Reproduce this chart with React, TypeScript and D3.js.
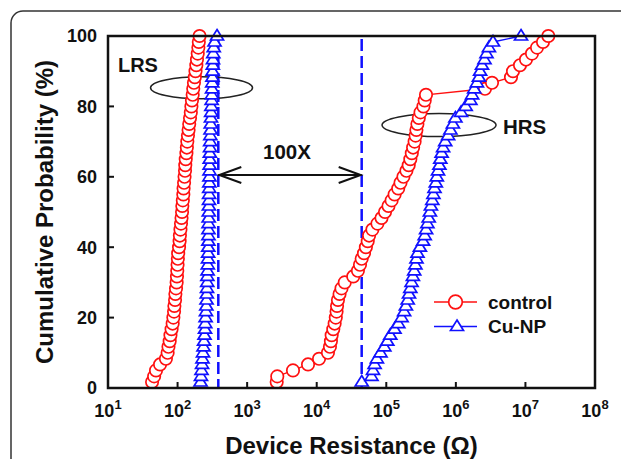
import React, { useEffect, useRef } from 'react';
import * as d3 from 'd3';

// cumulative probability (%) shared by every series
const prob = [1.7, 3.3, 5, 6.7, 8.3, 10, 11.7, 13.3, 15, 16.7, 18.3, 20, 21.7, 23.3, 25, 26.7, 28.3, 30,
  31.7, 33.3, 35, 36.7, 38.3, 40, 41.7, 43.3, 45, 46.7, 48.3, 50, 51.7, 53.3, 55, 56.7, 58.3, 60, 61.7,
  63.3, 65, 66.7, 68.3, 70, 71.7, 73.3, 75, 76.7, 78.3, 80, 81.7, 83.3, 85, 86.7, 88.3, 90, 91.7, 93.3,
  95, 96.7, 98.3, 100];

// device resistance (ohm)
const controlLRS = [43, 46, 49, 56, 68, 72, 74, 77, 79, 82, 85, 87, 89, 90, 92, 93, 95, 97, 98, 99,
  100, 101, 102, 105, 107, 108, 110, 112, 114, 116, 117, 119, 121, 122, 124, 126, 128, 129, 131, 134,
  136, 138, 141, 144, 147, 151, 155, 158, 161, 165, 168, 172, 177, 181, 186, 190, 195, 199, 202, 207];
const cuLRS = [214, 217, 221, 225, 228, 232, 236, 240, 244, 248, 250, 253, 256, 259, 261, 263, 265, 267,
  268, 270, 272, 274, 275, 276, 277, 278, 278, 279, 280, 281, 282, 283, 284, 285, 286, 287, 288, 289,
  290, 291, 293, 294, 296, 298, 300, 302, 304, 306, 309, 311, 313, 315, 317, 319, 321, 323, 326, 331,
  340, 369];
const controlHRS = [2660, 2710, 4560, 7500, 10800, 14500, 15500, 16000, 16400, 17300, 18100, 18800,
  19300, 19600, 20200, 21300, 22700, 25300, 33500, 39100, 41900, 44300, 47800, 50900, 54100, 56600,
  63200, 74600, 85400, 95900, 107600, 119300, 131700, 148400, 160100, 176300, 194600, 210100, 221500,
  232700, 242900, 255300, 263900, 271000, 280100, 293400, 310400, 341700, 356700, 372300, 2624000,
  3308000, 6203000, 6630000, 8357000, 10190000, 12430000, 14670000, 17890000, 21320000];
const cuHRS = [44340, 61330, 64440, 67950, 73330, 82590, 93660, 103400, 114200, 131300, 148900, 166100,
  180400, 191400, 203200, 212100, 221500, 231100, 241300, 251900, 262100, 271800, 281000, 304300,
  338300, 356700, 373600, 390000, 407200, 423600, 437900, 458700, 475700, 493300, 515000, 532400,
  553900, 580200, 597800, 624100, 655800, 703000, 773800, 835000, 907000, 985000, 1190000, 1385000,
  1619000, 1713000, 1835000, 2008000, 2145000, 2232000, 2376000, 2581000, 2758000, 2987000, 3420000,
  8640000];

const xExponents = [1, 2, 3, 4, 5, 6, 7, 8];
const yTicks = [0, 20, 40, 60, 80, 100];

// median markers (dashed lines) and annotations
const lrsMark = 385;
const hrsMark = 44300;
const arrowProb = 60.5;

const RED = '#ff1010';
const BLUE = '#1010ff';
const FONT = "'Liberation Sans', Arial, Helvetica, sans-serif";

function App() {
  const svgRef = useRef<SVGSVGElement>(null);

  useEffect(() => {
    const W = 621, H = 459;
    const svg = d3.select(svgRef.current);
    svg.selectAll('*').remove();
    svg.attr('width', W).attr('height', H);

    const x = d3.scaleLog().domain([1e1, 1e8]).range([108, 595]);
    const y = d3.scaleLinear().domain([0, 100]).range([388, 36]);

    svg.append('rect').attr('width', W).attr('height', H).attr('fill', '#fff');

    // outer rounded frame (cut by the picture edges)
    svg.append('rect')
      .attr('x', 11).attr('y', 11).attr('width', 700).attr('height', 600).attr('rx', 12)
      .attr('fill', 'none').attr('stroke', '#333').attr('stroke-width', 1.5);

    const g = svg.append('g');

    // dashed markers
    [lrsMark, hrsMark].forEach(v => {
      g.append('line')
        .attr('x1', x(v)).attr('x2', x(v)).attr('y1', y(100) + 3).attr('y2', y(0))
        .attr('stroke', BLUE).attr('stroke-width', 2.5).attr('stroke-dasharray', '12,5');
    });

    // 100X double arrow
    const ay = y(arrowProb);
    const ax1 = x(lrsMark), ax2 = x(hrsMark);
    g.append('line').attr('x1', ax1).attr('x2', ax2).attr('y1', ay).attr('y2', ay)
      .attr('stroke', '#111').attr('stroke-width', 2);
    g.append('path').attr('d', `M${ax1 + 23},${ay - 8}L${ax1 + 1},${ay}L${ax1 + 23},${ay + 8}`)
      .attr('fill', 'none').attr('stroke', '#111').attr('stroke-width', 2);
    g.append('path').attr('d', `M${ax2 - 23},${ay - 8}L${ax2 - 1},${ay}L${ax2 - 23},${ay + 8}`)
      .attr('fill', 'none').attr('stroke', '#111').attr('stroke-width', 2);
    g.append('text').attr('x', 287).attr('y', ay - 16)
      .attr('text-anchor', 'middle').attr('font-family', FONT).attr('font-weight', 'bold')
      .attr('font-size', 20.5).attr('fill', '#111').text('100X');

    // LRS / HRS labels and ellipses
    g.append('text').attr('x', x(13.9)).attr('y', y(89.8)).attr('font-family', FONT)
      .attr('font-weight', 'bold').attr('font-size', 20).attr('fill', '#111').text('LRS');
    g.append('ellipse').attr('cx', x(221)).attr('cy', y(85.3)).attr('rx', 51).attr('ry', 11)
      .attr('fill', 'none').attr('stroke', '#222').attr('stroke-width', 1.5);
    g.append('text').attr('x', 503).attr('y', y(72.3)).attr('font-family', FONT)
      .attr('font-weight', 'bold').attr('font-size', 20.5).attr('fill', '#111').text('HRS');
    g.append('ellipse').attr('cx', x(573000)).attr('cy', y(74.7)).attr('rx', 57).attr('ry', 11.5)
      .attr('fill', 'none').attr('stroke', '#222').attr('stroke-width', 1.5);

    const line = d3.line<[number, number]>().x(d => x(d[0])).y(d => y(d[1]));
    const tri = 'M0,-6.5L6.5,4L-6.5,4Z';

    const drawSeries = (vals: number[], color: string, shape: 'circle' | 'tri') => {
      const pts: [number, number][] = vals.map((v, i) => [v, prob[i]]);
      g.append('path').datum(pts).attr('d', line).attr('fill', 'none')
        .attr('stroke', color).attr('stroke-width', 1.4);
      if (shape === 'circle') {
        g.selectAll(null).data(pts).enter().append('circle')
          .attr('cx', d => x(d[0])).attr('cy', d => y(d[1])).attr('r', 6.2)
          .attr('fill', '#fff').attr('stroke', color).attr('stroke-width', 1.7);
      } else {
        g.selectAll(null).data(pts).enter().append('path')
          .attr('transform', d => `translate(${x(d[0])},${y(d[1])})`).attr('d', tri)
          .attr('fill', '#fff').attr('stroke', color).attr('stroke-width', 1.7);
      }
    };

    drawSeries(controlLRS, RED, 'circle');
    drawSeries(controlHRS, RED, 'circle');
    drawSeries(cuLRS, BLUE, 'tri');
    drawSeries(cuHRS, BLUE, 'tri');

    // plot box
    svg.append('rect')
      .attr('x', x(1e1)).attr('y', y(100)).attr('width', x(1e8) - x(1e1)).attr('height', y(0) - y(100))
      .attr('fill', 'none').attr('stroke', '#111').attr('stroke-width', 2.5);

    // y ticks
    yTicks.forEach(t => {
      svg.append('line').attr('x1', x(1e1)).attr('x2', x(1e1) + 6).attr('y1', y(t)).attr('y2', y(t))
        .attr('stroke', '#111').attr('stroke-width', 2);
      svg.append('text').attr('x', 97).attr('y', y(t) + 6.4).attr('text-anchor', 'end')
        .attr('font-family', FONT).attr('font-weight', 'bold').attr('font-size', 18)
        .attr('fill', '#111').text(t);
    });

    // x ticks with superscript labels
    xExponents.forEach(e => {
      const px = x(Math.pow(10, e));
      svg.append('line').attr('x1', px).attr('x2', px).attr('y1', y(0)).attr('y2', y(0) - 6)
        .attr('stroke', '#111').attr('stroke-width', 2);
      const t = svg.append('text').attr('x', px).attr('y', 416.5).attr('text-anchor', 'middle')
        .attr('font-family', FONT).attr('font-weight', 'bold').attr('fill', '#111');
      t.append('tspan').attr('font-size', 18).text('10');
      t.append('tspan').attr('font-size', 13).attr('dy', -7.5).text(e);
    });

    // axis titles
    svg.append('text').attr('transform', `translate(53,${(y(0) + y(100)) / 2}) rotate(-90)`)
      .attr('text-anchor', 'middle').attr('font-family', FONT).attr('font-weight', 'bold')
      .attr('font-size', 24).attr('fill', '#111').text('Cumulative Probability (%)');
    svg.append('text').attr('x', (x(1e1) + x(1e8)) / 2).attr('y', 454)
      .attr('text-anchor', 'middle').attr('font-family', FONT).attr('font-weight', 'bold')
      .attr('font-size', 24).attr('fill', '#111').text('Device Resistance (Ω)');

    // legend
    const legend = [
      { label: 'control', color: RED, shape: 'circle', ly: 302 },
      { label: 'Cu-NP', color: BLUE, shape: 'tri', ly: 326.5 },
    ];
    legend.forEach(l => {
      svg.append('line').attr('x1', 434).attr('x2', 477).attr('y1', l.ly).attr('y2', l.ly)
        .attr('stroke', l.color).attr('stroke-width', 1.6);
      if (l.shape === 'circle') {
        svg.append('circle').attr('cx', 455.5).attr('cy', l.ly).attr('r', 6.8)
          .attr('fill', '#fff').attr('stroke', l.color).attr('stroke-width', 1.7);
      } else {
        svg.append('path').attr('transform', `translate(457,${l.ly})`).attr('d', tri)
          .attr('fill', '#fff').attr('stroke', l.color).attr('stroke-width', 1.7);
      }
      svg.append('text').attr('x', 488).attr('y', l.ly + 6.8).attr('font-family', FONT)
        .attr('font-weight', 'bold').attr('font-size', 19).attr('fill', '#111').text(l.label);
    });
  }, []);

  return (
    <div style={{ position: 'absolute', left: 0, top: 0 }}>
      <svg ref={svgRef} style={{ display: 'block' }}></svg>
    </div>
  );
}

export default App;
